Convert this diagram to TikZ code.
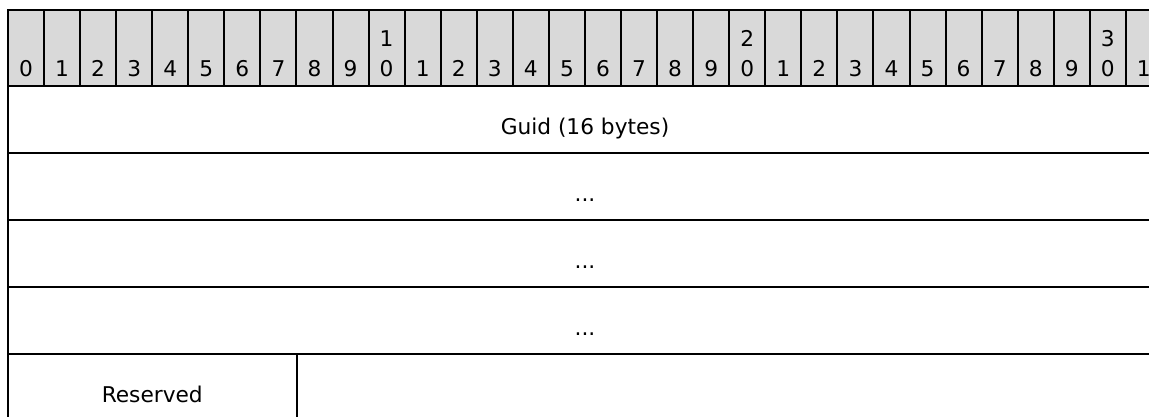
\documentclass[tikz,border=0pt]{standalone}
\usepackage{fontspec}
\setmainfont{DejaVu Sans}
\definecolor{hgray}{RGB}{217,217,217}
\begin{document}
\begin{tikzpicture}[x=1pt,y=-1pt,
  cell/.style={draw=black, line width=2pt, inner sep=0pt, outer sep=0pt, minimum height=67.1pt},
  hcell/.style={draw=black, fill=hgray, line width=2pt, inner sep=0pt, outer sep=0pt,
                minimum width=36.06pt, minimum height=76pt},
  hlab/.style={font=\fontsize{21.7}{30}\selectfont, inner sep=0pt, align=center, anchor=south},
  txt/.style={font=\fontsize{21.7}{25}\selectfont, inner sep=0pt, anchor=base}]
\useasboundingbox (0,0) rectangle (1149,416);
\clip (0,0) rectangle (1149,416);
% header row
\foreach \t [count=\i from 0] in {0,1,2,3,4,5,6,7,8,9,{1\\0},1,2,3,4,5,6,7,8,9,{2\\0},1,2,3,4,5,6,7,8,9,{3\\0},1}{
  \node[hcell] (h\i) at ({8+36.06*(\i+0.5)},48) {};
  \node[hlab] (l\i) at ({8+36.06*(\i+0.5)},77) {\t};
}
% body rows
\node[cell, minimum width=1154pt] (r1) at (585,119.55) {};
\node[cell, minimum width=1154pt] (r2) at (585,186.65) {};
\node[cell, minimum width=1154pt] (r3) at (585,253.75) {};
\node[cell, minimum width=1154pt] (r4) at (585,320.85) {};
\node[cell, minimum width=288.5pt] (r5a) at (152.25,387.95) {};
\node[cell, minimum width=865.5pt] (r5b) at (729.25,387.95) {};
% texts
\node[txt] (t1) at (585,134.3) {Guid (16 bytes)};
\node[txt] (t2) at (585,201.4) {...};
\node[txt] (t3) at (585,268.5) {...};
\node[txt] (t4) at (585,335.6) {...};
\node[txt] (t5) at (152.25,402.8) {Reserved};
\end{tikzpicture}
\end{document}
